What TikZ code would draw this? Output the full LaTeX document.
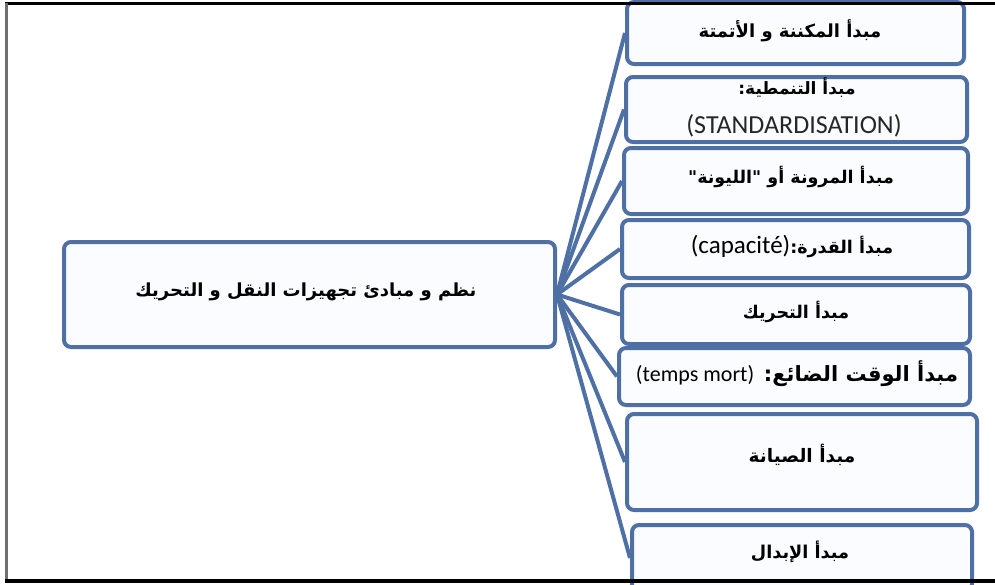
\documentclass[tikz,border=0pt]{standalone}
\usepackage{fontspec}
\setmainfont{Carlito}
\newfontfamily\arabicfont[Script=Arabic]{DejaVu Sans}
\newfontfamily\latinfont{Carlito}
\TeXXeTstate=1
\definecolor{boxblue}{RGB}{78,112,164}
\definecolor{boxfill}{RGB}{250,252,255}
\definecolor{framegray}{RGB}{110,110,110}
\newcommand{\arsize}[1]{\fontsize{#1}{#1}\selectfont}
\newcommand{\latpart}[2]{{\latinfont\mdseries\fontsize{#1}{#1}\selectfont #2}}
\tikzset{
  pbox/.style={draw=boxblue, line width=4pt, rounded corners=7pt, fill=boxfill},
  link/.style={draw=boxblue, line width=4pt},
  ar/.style={font=\arabicfont\bfseries, text=black},
  lat/.style={font=\latinfont, text=black!85}
}
\begin{document}
\begin{tikzpicture}[x=1pt,y=-1pt]
\useasboundingbox (0,0) rectangle (995,584);
\fill[white] (0,0) rectangle (995,584);

% hub box and the eight principle boxes
\node[pbox, minimum width=491pt, minimum height=105pt, anchor=north west] (main) at (62,240) {};
\node[pbox, minimum width=337pt, minimum height=62pt, anchor=north west] (b1) at (625,0) {};
\node[pbox, minimum width=341pt, minimum height=65pt, anchor=north west] (b2) at (624,75) {};
\node[pbox, minimum width=344pt, minimum height=66pt, anchor=north west] (b3) at (622,146) {};
\node[pbox, minimum width=347pt, minimum height=58pt, anchor=north west] (b4) at (620,218) {};
\node[pbox, minimum width=348pt, minimum height=59pt, anchor=north west] (b5) at (620,283) {};
\node[pbox, minimum width=351pt, minimum height=57pt, anchor=north west] (b6) at (617,346) {};
\node[pbox, minimum width=350pt, minimum height=96pt, anchor=north west] (b7) at (625,412) {};
\node[pbox, minimum width=340pt, minimum height=66pt, anchor=north west] (b8) at (630,523) {};

% connectors fanning out from the hub
\foreach \b in {b1,b2,b3,b4,b5,b6,b7,b8}
  \draw[link] (main.east) -- (\b.west);

% labels
\node[ar] (t0) at (306,292) {\arsize{18}\beginR نظم و مبادئ تجهيزات النقل و التحريك\endR};
\node[ar] (t1) at (790,31) {\arsize{18}\beginR مبدأ المكننة و الأتمتة\endR};
\node[ar] (t2a) at (797,88) {\arsize{17}\beginR مبدأ التنمطية:\endR};
\node[lat] (t2b) at (794,126) {\fontsize{26}{26}\selectfont(STANDARDISATION)};
\node[ar] (t3) at (791,177) {\arsize{17.5}\beginR مبدأ المرونة أو "الليونة"\endR};
\node[ar] (t4) at (792,246) {\arsize{17.5}\beginR مبدأ القدرة:\beginL\latpart{25}{(capacité)}\endL\endR};
\node[ar] (t5) at (796,312) {\arsize{17.5}\beginR مبدأ التحريك\endR};
\node[ar] (t6) at (797,374) {\arsize{21}\beginR مبدأ الوقت الضائع: \beginL\latpart{22}{(temps mort)}\endL\endR};
\node[ar] (t7) at (802,455) {\arsize{18.5}\beginR مبدأ الصيانة\endR};
\node[ar] (t8) at (800,552) {\arsize{17.7}\beginR مبدأ الإبدال\endR};

% page frame: top and bottom rules, grey left rule
\draw[black, line width=3pt] (5,3) -- (995,3);
\draw[framegray, line width=3pt] (6,3) -- (6,581);
\draw[black, line width=4pt] (5,581) -- (995,581);
\end{tikzpicture}
\end{document}
